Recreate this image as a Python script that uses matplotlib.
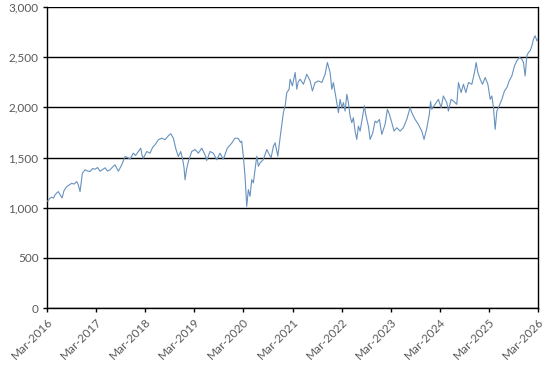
import matplotlib
matplotlib.use("Agg")
import matplotlib.pyplot as plt
from matplotlib.ticker import FuncFormatter, MultipleLocator
from datetime import datetime

# time in decimal years
t = [2016.178, 2016.215, 2016.260, 2016.296, 2016.327, 2016.368, 2016.394, 2016.429, 2016.470, 2016.510,
     2016.565, 2016.612, 2016.667, 2016.714, 2016.769, 2016.801, 2016.836, 2016.883, 2016.938, 2016.989,
     2017.040, 2017.091, 2017.142, 2017.193, 2017.243, 2017.294, 2017.345, 2017.396, 2017.447, 2017.498,
     2017.549, 2017.616, 2017.685, 2017.753, 2017.804, 2017.854, 2017.922, 2017.966, 2018.024, 2018.072,
     2018.099, 2018.125, 2018.195, 2018.262, 2018.313, 2018.364, 2018.431, 2018.500, 2018.567, 2018.635,
     2018.683, 2018.736, 2018.791, 2018.838, 2018.887, 2018.928, 2018.954, 2018.975, 2019.005, 2019.042,
     2019.111, 2019.178, 2019.246, 2019.315, 2019.382, 2019.417, 2019.484, 2019.551, 2019.620, 2019.687,
     2019.755, 2019.836, 2019.926, 2019.993, 2020.060, 2020.105, 2020.129, 2020.162, 2020.197, 2020.231,
     2020.264, 2020.298, 2020.333, 2020.366, 2020.400, 2020.435, 2020.468, 2020.502, 2020.569, 2020.639,
     2020.671, 2020.726, 2020.773, 2020.808, 2020.863, 2020.889, 2020.920, 2020.950, 2020.977, 2021.011,
     2021.046, 2021.093, 2021.113, 2021.160, 2021.215, 2021.250, 2021.276, 2021.317, 2021.384, 2021.453,
     2021.521, 2021.567, 2021.622, 2021.690, 2021.759, 2021.826, 2021.873, 2021.928, 2021.963, 2021.995,
     2022.030, 2022.064, 2022.097, 2022.132, 2022.166, 2022.199, 2022.233, 2022.268, 2022.301, 2022.335,
     2022.370, 2022.402, 2022.437, 2022.472, 2022.504, 2022.539, 2022.586, 2022.626, 2022.661, 2022.708,
     2022.743, 2022.798, 2022.844, 2022.879, 2022.932, 2022.981, 2023.048, 2023.095, 2023.136, 2023.185,
     2023.231, 2023.286, 2023.354, 2023.421, 2023.490, 2023.557, 2023.592, 2023.659, 2023.726, 2023.796,
     2023.842, 2023.897, 2023.950, 2023.975, 2023.999, 2024.066, 2024.134, 2024.189, 2024.235, 2024.305,
     2024.337, 2024.392, 2024.439, 2024.508, 2024.541, 2024.596, 2024.643, 2024.692, 2024.745, 2024.814,
     2024.867, 2024.901, 2024.936, 2024.983, 2025.030, 2025.085, 2025.140, 2025.187, 2025.221, 2025.254,
     2025.288, 2025.323, 2025.370, 2025.425, 2025.478, 2025.527, 2025.574, 2025.628, 2025.682, 2025.730,
     2025.783, 2025.832, 2025.865, 2025.899, 2025.934, 2025.967, 2026.001, 2026.036, 2026.069, 2026.103,
     2026.138, 2026.164]

values = [1065, 1090, 1105, 1095, 1127, 1150, 1160, 1130, 1097, 1170,
          1210, 1225, 1243, 1235, 1260, 1227, 1160, 1343, 1377, 1365,
          1360, 1390, 1383, 1400, 1363, 1380, 1397, 1365, 1377, 1405,
          1427, 1363, 1427, 1510, 1500, 1483, 1543, 1520, 1560, 1593,
          1520, 1493, 1560, 1543, 1600, 1627, 1677, 1693, 1677, 1717,
          1737, 1693, 1580, 1510, 1560, 1477, 1400, 1277, 1380, 1460,
          1560, 1580, 1543, 1593, 1527, 1470, 1560, 1543, 1477, 1543,
          1483, 1593, 1643, 1693, 1690, 1650, 1663, 1513, 1313, 1013,
          1180, 1113, 1280, 1247, 1380, 1513, 1413, 1447, 1480, 1580,
          1547, 1497, 1613, 1647, 1513, 1620, 1740, 1850, 1950, 2013,
          2147, 2180, 2280, 2213, 2347, 2180, 2250, 2280, 2230, 2330,
          2263, 2163, 2247, 2263, 2247, 2330, 2447, 2347, 2180, 2247,
          2147, 2047, 1947, 2080, 1997, 2047, 1963, 2130, 2047, 1913,
          1847, 1897, 1763, 1680, 1813, 1763, 1897, 2013, 1913, 1813,
          1680, 1747, 1863, 1847, 1880, 1730, 1830, 1980, 1930, 1847,
          1763, 1797, 1763, 1797, 1880, 1997, 1947, 1880, 1830, 1763,
          1680, 1790, 1930, 2060, 1980, 2030, 2080, 1997, 2113, 2047,
          1963, 2080, 2063, 2030, 2247, 2147, 2230, 2147, 2247, 2230,
          2347, 2447, 2347, 2280, 2230, 2297, 2230, 2080, 2113, 1997,
          1780, 1963, 2013, 2080, 2163, 2197, 2263, 2313, 2413, 2463,
          2497, 2480, 2447, 2313, 2513, 2547, 2563, 2613, 2680, 2713,
          2663, 2680]

tick_years = list(range(2016, 2027))
tick_labels = [f"Mar-{y}" for y in tick_years]


def to_date(ty):
    y = int(ty)
    start = datetime(y, 1, 1)
    end = datetime(y + 1, 1, 1)
    return start + (end - start) * (ty - y)


dates = [to_date(v) for v in t]
tick_dates = [datetime(y, 3, 1) for y in tick_years]

plt.rcParams['font.family'] = ['Lato', 'DejaVu Sans']

fig = plt.figure(figsize=(5.45, 3.68), dpi=100)
ax = fig.add_axes([0.0862, 0.163, 0.9872 - 0.0862, 0.981 - 0.163])

ax.plot(dates, values, color='#6892BE', lw=0.8, zorder=3)

ax.set_ylim(0, 3000)
ax.yaxis.set_major_locator(MultipleLocator(500))
ax.yaxis.set_major_formatter(FuncFormatter(lambda v, p: f"{int(v):,}"))
ax.grid(axis='y', color='black', lw=1.0, zorder=1)
ax.set_xlim(tick_dates[0], tick_dates[-1])
ax.set_xticks(tick_dates)
ax.set_xticklabels(tick_labels, rotation=45, ha='right', rotation_mode='anchor')

for s in ['left', 'right', 'bottom']:
    ax.spines[s].set_color('black')
    ax.spines[s].set_linewidth(1.0)
ax.spines['top'].set_visible(False)

ax.tick_params(axis='both', colors='black', length=3, width=1, labelcolor='#595959', labelsize=8.5)
ax.tick_params(axis='y', pad=3)
ax.tick_params(axis='x', pad=3)

fig.savefig('out.png', dpi=100)
